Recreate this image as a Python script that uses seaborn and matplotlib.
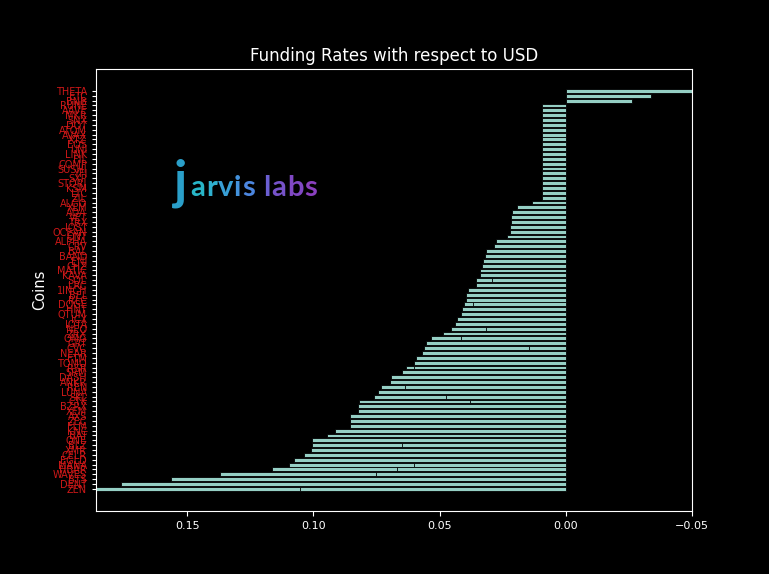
import numpy as np
import pandas as pd
import matplotlib
matplotlib.use("Agg")
import matplotlib.pyplot as plt
import seaborn as sns

coins = ["THETA", "ETC", "BNB", "RUNE", "AAVE", "MKR", "SNX", "DOT", "ATOM", "AVAX",
         "XTZ", "EOS", "UNI", "LINK", "FIL", "COMP", "SUSHI", "YFI", "SXP", "STORJ",
         "KSM", "LTC", "ZIL", "ALGO", "XLM", "ADA", "VET", "TRX", "IOST", "OCEAN",
         "ONT", "ALPHA", "CRV", "BAL", "BAND", "ENJ", "CHZ", "MATIC", "KAVA", "SOL",
         "LRC", "1INCH", "BEL", "RLC", "DOGE", "HNT", "QTUM", "ICX", "IOTA", "NEO",
         "ZRX", "OMG", "GRT", "CVC", "NEAR", "FTM", "TOMO", "RSR", "SRM", "DASH",
         "ANKR", "REN", "LUNA", "SKL", "CTK", "BZRX", "XEM", "AXS", "ZEC", "FLM",
         "KNC", "BAT", "ONE", "BLZ", "XMR", "CELR", "EGLD", "MANA", "HBAR", "WAVES",
         "BTS", "DENT", "ZEN"]

rates = [-0.05, -0.0336, -0.026] + [0.0094] * 20 + [
    0.0134, 0.0195, 0.0212, 0.0216, 0.0217, 0.0220, 0.0220, 0.0235, 0.0276, 0.0283,
    0.0317, 0.0321, 0.0327, 0.0334, 0.0341, 0.0342, 0.0356, 0.0356, 0.0386, 0.0395,
    0.0395, 0.0403, 0.0411, 0.0415, 0.0430, 0.0441, 0.0456, 0.0488, 0.0536, 0.0556,
    0.0564, 0.0571, 0.0595, 0.0603, 0.0634, 0.0648, 0.0694, 0.0698, 0.0733, 0.0744,
    0.0762, 0.0818, 0.0823, 0.0824, 0.0856, 0.0856, 0.0856, 0.0915, 0.0947, 0.1004,
    0.1004, 0.1008, 0.1037, 0.1079, 0.1095, 0.1166, 0.1372, 0.1566, 0.1764, 0.1861]

# duplicated coin entries (second, shorter rate drawn over the same row)
dup_coins = ["SOL", "DOGE", "NEO", "OMG", "CVC", "RSR", "REN", "SKL", "CTK",
             "BLZ", "MANA", "HBAR", "WAVES", "ZEN"]
dup_rates = [0.0294, 0.0367, 0.0316, 0.0414, 0.0146, 0.0603, 0.0637, 0.0476, 0.0379,
             0.0649, 0.0603, 0.0668, 0.0754, 0.1055]

df = pd.DataFrame({"coin": coins, "rate": rates})
dfd = pd.DataFrame({"coin": dup_coins, "rate": dup_rates})

plt.style.use("dark_background")
fig = plt.figure(figsize=(7.69, 5.74), dpi=100, facecolor="black")
ax = fig.add_subplot(111)
ax.set_facecolor("black")

bar_color = "#95cfc4"
sns.barplot(data=df, x="rate", y="coin", order=coins, orient="h", color=bar_color,
            saturation=1, width=0.8, edgecolor="black", linewidth=0.6, ax=ax)
sns.barplot(data=dfd, x="rate", y="coin", order=coins, orient="h", color=bar_color,
            saturation=1, width=0.8, edgecolor="black", linewidth=0.6, ax=ax)

n = len(coins)
ax.set_xlim(max(rates), min(rates))
ax.set_ylim(n - 1 + 0.4 + 0.05 * (n - 0.2), -0.4 - 0.05 * (n - 0.2))
ax.set_xticks([0.15, 0.10, 0.05, 0.00, -0.05])
ax.set_xticklabels(["0.15", "0.10", "0.05", "0.00", "\u22120.05"], fontsize=8, color="white")
ax.tick_params(axis="y", labelsize=7, labelcolor="#d01818", length=3, width=0.8, color="white")
ax.tick_params(axis="x", length=3.5, width=0.8, color="white")
ax.set_xlabel("")
ax.set_ylabel("Coins", fontsize=10.5, color="white")
ax.set_title("Funding Rates with respect to USD", fontsize=12, color="white")
for s in ax.spines.values():
    s.set_color("white")

# logo as text
fig.canvas.draw()
r = fig.canvas.get_renderer()
fig.text(0.226, 0.655, "j", fontsize=38, fontweight="bold", family="Lato", color="#2a9fc9")
x = 0.2475
chars = list("arvis labs")
cols = ["#28b6c8", "#2fb0cf", "#389fd6", "#4392dc", "#4c86df", "#000000",
        "#6b5fd2", "#7652c9", "#8048c4", "#8a40bf"]
for ch, c in zip(chars, cols):
    t = fig.text(x, 0.658, ch if ch != " " else "\u00a0", fontsize=21, fontweight="bold",
                 family="Lato", color=c)
    bb = t.get_window_extent(renderer=r)
    x += bb.width / fig.bbox.width + 0.001

fig.savefig("out.png", dpi=100, facecolor="black")
